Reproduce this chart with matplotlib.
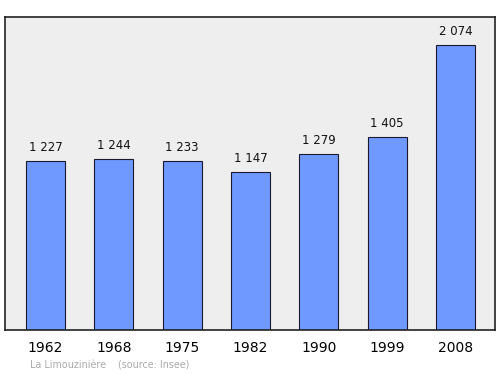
import numpy as np
import matplotlib
matplotlib.use('Agg')
import matplotlib.pyplot as plt

years = ['1962', '1968', '1975', '1982', '1990', '1999', '2008']
population = [1227, 1244, 1233, 1147, 1279, 1405, 2074]
value_labels = ['1 227', '1 244', '1 233', '1 147', '1 279', '1 405', '2 074']

fig = plt.figure(figsize=(5, 3.74), dpi=100)
ax = fig.add_axes([0.01, 0.1176, 0.98, 0.8369])
ax.set_facecolor('#eeeeee')

x = np.arange(len(years))
ax.bar(x, population, width=0.57, color='#7099ff', edgecolor='#1a1a2e', linewidth=0.8)

for xi, v, lab in zip(x, population, value_labels):
    ax.annotate(lab, (xi, v), xytext=(0, 5), textcoords='offset points',
                ha='center', va='bottom', fontsize=8.5, color='#111111')

ax.set_xlim(-0.593, 6.578)
ax.set_ylim(0, 2278)
ax.set_yticks([])
ax.set_xticks(x)
ax.set_xticklabels(years, fontsize=10)
ax.tick_params(axis='x', length=0, pad=8)
for s in ax.spines.values():
    s.set_color('#222222')
    s.set_linewidth(1.2)

fig.text(0.06, 0.016, 'La Limouzinière    (source: Insee)', fontsize=6.9, color='#aaaaaa')

fig.savefig('out.png', dpi=100)
